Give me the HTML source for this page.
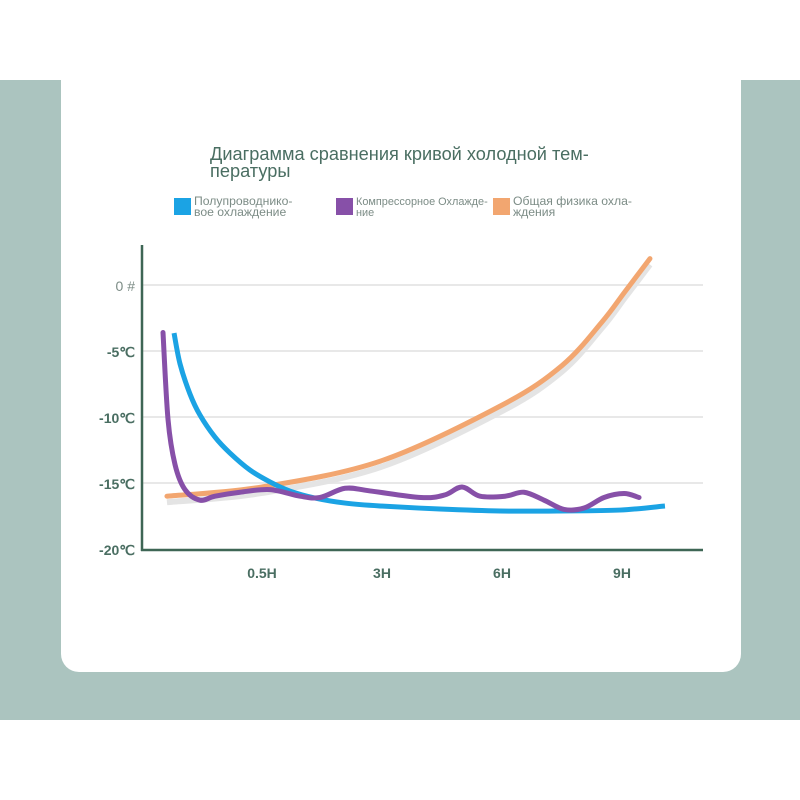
<!DOCTYPE html>
<html><head><meta charset="utf-8"><style>
html,body{margin:0;padding:0;width:800px;height:800px;background:#fff;overflow:hidden;font-family:"Liberation Sans",sans-serif}
#band{position:absolute;left:0;top:80px;width:800px;height:640px;background:#abc4bf}
#card{position:absolute;left:61px;top:80px;width:680px;height:592px;background:#fff;border-radius:0 0 18px 18px}
svg{position:absolute;left:0;top:0}
</style></head><body>
<div id="band"></div>
<div id="card"></div>
<svg id="chart" width="800" height="800">
<text x="210" y="160" font-size="18.2" fill="#4a6e62">Диаграмма сравнения кривой холодной тем-</text>
<text x="210" y="177" font-size="18.2" fill="#4a6e62">пературы</text>
<g font-size="12.2" fill="#7c8c86">
<rect x="174" y="198" width="17" height="17" fill="#1ba3e4"/>
<text x="194" y="205">Полупроводнико-</text>
<text x="194" y="216">вое охлаждение</text>
<rect x="336" y="198" width="17" height="17" fill="#8750a8"/>
<text x="356" y="205" font-size="10.9">Компрессорное Охлажде-</text>
<text x="356" y="216" font-size="10.9">ние</text>
<rect x="493" y="198" width="17" height="17" fill="#f2a670"/>
<text x="513" y="205">Общая физика охла-</text>
<text x="513" y="216">ждения</text>
</g>
<g id="grid"></g><g id="series"></g><g id="axes"></g>
</svg>
<script>
const yTicks=[0,-5,-10,-15,-20];
const yTickLabels=["0 #","-5℃","-10℃","-15℃","-20℃"];
const xTickLabels=["0.5H","3H","6H","9H"];
const blueT=[-0.733,-0.683,-0.6,-0.517,-0.392,-0.267,-0.1,0.067,0.233,0.442,0.692,0.983,1.483,1.983,2.483,2.983,3.358];
const blueV=[-3.64,-5.98,-8.26,-9.85,-11.52,-12.73,-14.02,-14.92,-15.61,-16.14,-16.52,-16.74,-16.97,-17.12,-17.12,-17.05,-16.74];
const orangeT=[-0.792,0,1,2,2.5,2.833,3.025,3.233];
const orangeV=[-16.0,-15.3,-13.3,-9.1,-6.1,-2.8,-0.5,2.0];
const purpleT=[-0.825,-0.783,-0.725,-0.642,-0.517,-0.392,-0.183,0.067,0.317,0.483,0.692,0.9,1.325,1.525,1.667,1.817,2.025,2.183,2.35,2.517,2.683,2.85,3.017,3.142];
const purpleV=[-3.6,-10.2,-13.6,-15.5,-16.3,-16.0,-15.7,-15.5,-16.0,-16.1,-15.4,-15.6,-16.1,-15.9,-15.3,-16.0,-16.0,-15.7,-16.3,-17.0,-16.9,-16.1,-15.8,-16.1];
const NS="http://www.w3.org/2000/svg";
const X=t=>262+120*t, Y=v=>285-13.2*v;
function mk(tag,attrs,parent){const e=document.createElementNS(NS,tag);for(const k in attrs)e.setAttribute(k,attrs[k]);parent.appendChild(e);return e;}
const grid=document.getElementById('grid'),axes=document.getElementById('axes'),series=document.getElementById('series');
yTicks.forEach((v,i)=>{
 if(v>-20){const l=mk('line',{x1:142,x2:703,y1:Y(v),y2:Y(v),stroke:'#e8e8e8','stroke-width':2},grid);
 
 }
 const t=mk('text',{x:135,y:Y(v)+6,'text-anchor':'end','font-size':14,fill:i==0?'#7c8c86':'#4a6e62','font-weight':i==0?'normal':'bold'},axes);
 t.textContent=yTickLabels[i];
 
 
});
xTickLabels.forEach((s,i)=>{
 const t=mk('text',{x:X(i),y:578,'text-anchor':'middle','font-size':14,'font-weight':'bold',fill:'#4a6e62'},axes);
 t.textContent=s;
 
 
});
const ya=mk('line',{x1:142,x2:142,y1:245,y2:551,stroke:'#3e6655','stroke-width':2.5},axes);


const xa=mk('line',{x1:141,x2:703,y1:550,y2:550,stroke:'#3e6655','stroke-width':2.5},axes);


function path(T,V){const p=T.map((t,i)=>[X(t),Y(V[i])]);let d='M'+p[0][0]+','+p[0][1];
 for(let i=0;i<p.length-1;i++){const p0=p[Math.max(0,i-1)],p1=p[i],p2=p[i+1],p3=p[Math.min(p.length-1,i+2)];
 const c1=[p1[0]+(p2[0]-p0[0])/6,p1[1]+(p2[1]-p0[1])/6],c2=[p2[0]-(p3[0]-p1[0])/6,p2[1]-(p3[1]-p1[1])/6];
 d+=` C${c1[0]},${c1[1]} ${c2[0]},${c2[1]} ${p2[0]},${p2[1]}`;}return d;}
const sh=mk('path',{d:path(orangeT,orangeV),fill:'none',stroke:'#e4e4e4','stroke-width':6,transform:'translate(0,6)'},series);


const o=mk('path',{d:path(orangeT,orangeV),fill:'none',stroke:'#f2a670','stroke-width':5,'stroke-linecap':'round'},series);


const b=mk('path',{d:path(blueT,blueV),fill:'none',stroke:'#1ba3e4','stroke-width':5},series);


const pu=mk('path',{d:path(purpleT,purpleV),fill:'none',stroke:'#8750a8','stroke-width':5,'stroke-linecap':'round'},series);


</script>
</body></html>
